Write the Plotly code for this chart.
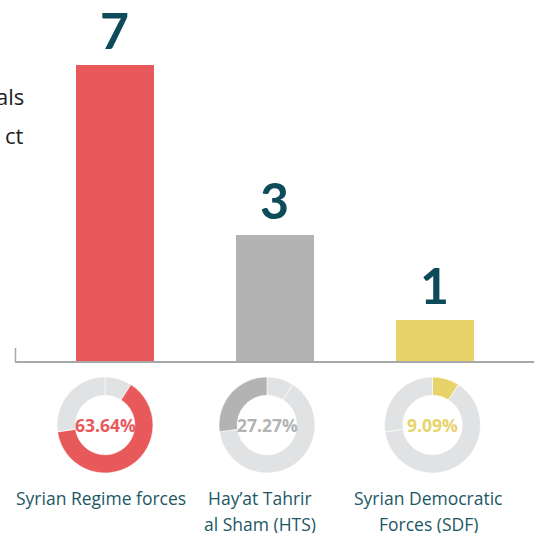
import plotly.graph_objects as go

categories = ["Syrian Regime forces", "Hay\u2019at Tahrir<br>al Sham (HTS)", "Syrian Democratic<br>Forces (SDF)"]
counts = [7, 3, 1]
bar_colors = ["#E8595C", "#B3B3B3", "#E8D36B"]
# ring order clockwise from 12 o'clock: SDF, Regime, HTS
ring_order = [2, 0, 1]
title_fragments = ["als", "ct"]

W, H = 534, 533
LIGHT = "#E1E2E4"
TEAL = "#0E4B5A"
LABEL = "#1C5764"

fig = go.Figure()
xs = list(range(len(categories)))
fig.add_trace(go.Bar(
    x=xs, y=counts, marker=dict(color=bar_colors, line=dict(width=0)),
    width=0.4875, hoverinfo="skip", showlegend=False,
))

total = sum(counts)
centers = [105, 267, 432.5]
label_x = [101, 260, 428]
cy = 425
r = 48
for i, c in enumerate(categories):
    vals = [counts[k] for k in ring_order]
    cols = [bar_colors[k] if k == i else LIGHT for k in ring_order]
    fig.add_trace(go.Pie(
        values=vals, sort=False, direction="clockwise", rotation=0,
        hole=0.62, marker=dict(colors=cols, line=dict(color="white", width=0.6)),
        textinfo="none", hoverinfo="skip", showlegend=False,
        domain=dict(x=[(centers[i] - r) / W, (centers[i] + r) / W],
                    y=[(H - cy - r) / H, (H - cy + r) / H]),
    ))
    pct = counts[i] / total * 100
    fig.add_annotation(
        x=centers[i] / W, y=(H - cy) / H, xref="paper", yref="paper",
        text=f"<b>{pct:.2f}%</b>", showarrow=False,
        font=dict(family="Open Sans", size=17.5, color=bar_colors[i]),
        xanchor="center", yanchor="middle",
    )
    for j, line in enumerate(c.split("<br>")):
        fig.add_annotation(
            x=label_x[i] / W, y=(H - (498 + 26 * j)) / H, xref="paper", yref="paper",
            text=line, showarrow=False, align="center", borderpad=0,
            font=dict(family="Open Sans", size=17.5, color=LABEL),
            xanchor="center", yanchor="middle",
        )
    fig.add_annotation(
        x=xs[i], y=counts[i], xref="x", yref="y",
        text=f"<b>{counts[i]}</b>", showarrow=False,
        font=dict(family="Lato", size=50, color=TEAL, weight=900),
        xanchor="center", yanchor="bottom", yshift=3,
    )

for j, t in enumerate(title_fragments):
    fig.add_annotation(
        x=25 / W, y=(H - (96 + 39 * j)) / H, xref="paper", yref="paper",
        text=t, showarrow=False, borderpad=0,
        font=dict(family="Open Sans", size=22, color="#222222"),
        xanchor="right", yanchor="middle",
    )

base = 362
fig.add_shape(type="line", xref="paper", yref="paper",
              x0=15 / W, x1=1, y0=(H - base) / H, y1=(H - base) / H,
              line=dict(color="#A8A8A8", width=2))
fig.add_shape(type="line", xref="paper", yref="paper",
              x0=15.5 / W, x1=15.5 / W, y0=(H - base) / H, y1=(H - 348) / H,
              line=dict(color="#A8A8A8", width=1.5))

fig.update_layout(
    width=W, height=H, margin=dict(l=0, r=0, t=0, b=0),
    paper_bgcolor="white", plot_bgcolor="white",
    xaxis=dict(domain=[15 / W, 1], range=[-0.625, 2.619], visible=False, fixedrange=True),
    yaxis=dict(domain=[(H - base) / H, 1], range=[0, base / 42.4], visible=False, fixedrange=True),
    bargap=0,
)
fig.write_html("out.html", config={"displayModeBar": False},
               post_script="document.body.style.margin='0';document.body.style.overflow='hidden';")
